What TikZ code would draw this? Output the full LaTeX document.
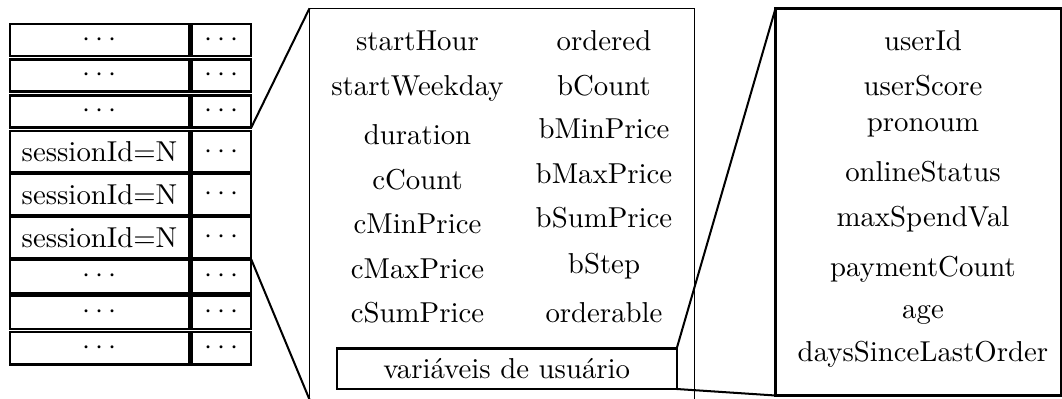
\documentclass[tikz,border=0pt]{standalone}
\usepackage{fontspec}
\begin{document}
\begin{tikzpicture}[x=0.3472pt, y=-0.3472pt,
  cell/.style={draw, line width=0.75pt, inner sep=0pt, outer sep=0pt},
  thinbox/.style={draw, line width=0.4pt, inner sep=0pt, outer sep=0pt},
  conn/.style={line width=0.7pt},
  lbl/.style={anchor=base, inner sep=0pt}]
\clip (0,0) rectangle (1062,398);
% left table
\foreach \i/\t/\b/\txt in {1/24/56/$\cdots$, 2/59.5/91.5/$\cdots$, 3/95.5/127.5/$\cdots$,
  4/131/172.3/sessionId=N, 5/173.5/215/sessionId=N, 6/216.5/258/sessionId=N,
  7/259.5/293.5/$\cdots$, 8/296/329/$\cdots$, 9/332/364.5/$\cdots$} {
  \node[cell, minimum width=179*0.3472pt, minimum height={(\b-\t)*0.3472pt}]
    (L\i) at (99.5,{(\t+\b)/2}) {\txt};
  \node[cell, minimum width=59.8*0.3472pt, minimum height={(\b-\t)*0.3472pt}]
    (R\i) at (221.4,{(\t+\b)/2}) {$\cdots$};
}
% middle box
\node[thinbox, minimum width=384.8*0.3472pt, minimum height=391.2*0.3472pt] (mid) at (501.9,203.9) {};
\foreach \n/\y/\txt in {a/50/startHour, b/95/startWeekday, c/144.3/duration, d/189/cCount,
  e/233.3/cMinPrice, f/278.3/cMaxPrice, g/322.7/cSumPrice}
  \node[lbl] (ml\n) at (417.5,\y) {\txt};
\foreach \n/\y/\txt in {a/50/ordered, b/95/bCount, c/138.3/bMinPrice, d/183.3/bMaxPrice,
  e/227.7/bSumPrice, f/273.3/bStep, g/322.7/orderable}
  \node[lbl] (mr\n) at (604,\y) {\txt};
\node[cell, minimum width=340*0.3472pt, minimum height=40.5*0.3472pt] (var) at (506.7,368.75) {variáveis de usuário};
% right box
\node[cell, minimum width=285.5*0.3472pt, minimum height=387*0.3472pt] (usr) at (918.25,202) {};
\foreach \n/\y/\txt in {a/50/userId, b/95/userScore, c/131.7/pronoum, d/181.7/onlineStatus,
  e/226.7/maxSpendVal, f/276.7/paymentCount, g/318.3/age, h/361.7/daysSinceLastOrder}
  \node[lbl] (u\n) at (923,\y) {\txt};
% connectors
\draw[conn] (R3.south east) -- (mid.north west);
\draw[conn] (R7.north east) -- (mid.south west);
\draw[conn] (var.north east) -- (usr.north west);
\draw[conn] (var.south east) -- (usr.south west);
\end{tikzpicture}
\end{document}
